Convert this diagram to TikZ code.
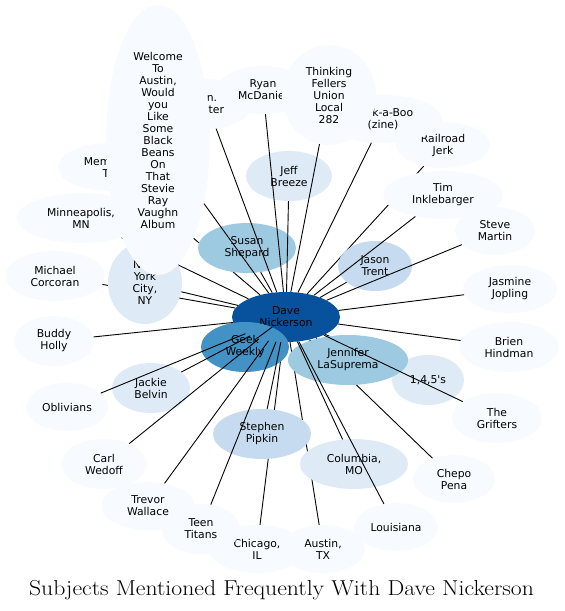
\documentclass[tikz,border=0pt]{standalone}
\usepackage{fontspec}
\usetikzlibrary{shapes.geometric,backgrounds}
\newfontfamily\subjfont{DejaVu Sans}

\definecolor{bluenine}{HTML}{08519C}
\definecolor{bluesev}{HTML}{4292C6}
\definecolor{bluefive}{HTML}{9ECAE1}
\definecolor{bluefour}{HTML}{C6DBEF}
\definecolor{bluethree}{HTML}{DEEBF7}
\definecolor{blueone}{HTML}{F7FBFF}

\tikzset{
  subj/.style={ellipse, inner sep=0pt, align=center, fill=blueone,
    font=\subjfont\fontsize{10.8}{12}\selectfont},
  sz/.style 2 args={minimum width=#1pt, minimum height=#2pt},
  link/.style={draw=black, line width=0.9pt},
}

\begin{document}
\begin{tikzpicture}[x=1pt,y=1pt,yscale=-1]
\useasboundingbox (0,0) rectangle (565,611);

%Shape: Ellipse (center and inner ring)
\node (dave) at (286,317) [subj, sz={108}{50}, fill=bluenine] {Dave\\Nickerson};
\node (geek) at (245,347) [subj, sz={88}{50}, fill=bluesev] {Geek\\Weekly};
\node (ones) at (428,380) [subj, sz={72}{50}, fill=bluethree] {1,4,5's};
\node (jennifer) at (348,360) [subj, sz={120}{50}, fill=bluefive] {Jennifer\\LaSuprema};
\node (susan) at (247,248) [subj, sz={98}{50}, fill=bluefive] {Susan\\Shepard};
\node (jason) at (375,266) [subj, sz={74}{50}, fill=bluefour] {Jason\\Trent};
\node (stephen) at (262,434) [subj, sz={98}{50}, fill=bluefour] {Stephen\\Pipkin};
\node (columbia) at (354,464) [subj, sz={108}{50}, fill=bluethree] {Columbia,\\MO};
\node (jackie) at (151,388) [subj, sz={78}{50}, fill=bluethree] {Jackie\\Belvin};
\node (jeff) at (289,176) [subj, sz={86}{50}, fill=bluethree] {Jeff\\Breeze};
\node (newyork) at (145,283) [subj, sz={74}{82}, fill=bluethree] {New\\York\\City,\\NY};

%Shape: Ellipse (outer ring, upper left)
\node (memphis) at (110,167) [subj, sz={104}{48}] {Memphis,\\TN};
\node (minneapolis) at (81,218) [subj, sz={128}{50}] {Minneapolis,\\MN};
\node (carter) at (207,104) [subj, sz={90}{50}] {Jon.\\Carter};
\node (ryan) at (263,90) [subj, sz={92}{48}] {Ryan\\McDaniel};
\node (welcome) at (158,140) [subj, sz={104}{270}] {Welcome\\To\\Austin,\\Would\\you\\Like\\Some\\Black\\Beans\\On\\That\\Stevie\\Ray\\Vaughn\\Album};
\node (michael) at (55,276) [subj, sz={100}{50}] {Michael\\Corcoran};
\node (buddy) at (54,341) [subj, sz={80}{50}] {Buddy\\Holly};

%Shape: Ellipse (outer ring, bottom)
\node (oblivians) at (67,407) [subj, sz={82}{48}] {Oblivians};
\node (carl) at (104,464) [subj, sz={86}{50}] {Carl\\Wedoff};
\node (trevor) at (148,506) [subj, sz={94}{48}] {Trevor\\Wallace};
\node (austin) at (323,549) [subj, sz={84}{48}] {Austin,\\TX};
\node (chicago) at (257,549) [subj, sz={96}{48}] {Chicago,\\IL};
\node (teen) at (201,529) [subj, sz={78}{50}] {Teen\\Titans};
\node (louisiana) at (396,527) [subj, sz={84}{48}] {Louisiana};
\node (chepo) at (454,479) [subj, sz={82}{48}] {Chepo\\Pena};

%Shape: Ellipse (outer ring, right)
\node (grifters) at (497,418) [subj, sz={90}{50}] {The\\Grifters};
\node (brien) at (509,347) [subj, sz={100}{50}] {Brien\\Hindman};
\node (jasmine) at (510,289) [subj, sz={94}{48}] {Jasmine\\Jopling};
\node (steve) at (495,231) [subj, sz={80}{48}] {Steve\\Martin};
\node (tim) at (443,195) [subj, sz={120}{48}] {Tim\\Inklebarger};
\node (railroad) at (443,145) [subj, sz={94}{46}] {Railroad\\Jerk};
\node (peek) at (383,119) [subj, sz={118}{48}] {Peek-a-Boo\\(zine)};
\node (thinking) at (329,95) [subj, sz={94}{100}] {Thinking\\Fellers\\Union\\Local\\282};

%Straight Lines (under the ellipses)
\begin{scope}[on background layer]
\foreach \s in {memphis,minneapolis,michael,railroad,chicago,austin,chepo,ones}
  \draw [link] (dave) -- (\s);
\end{scope}

%Straight Lines (over the ellipses)
\foreach \s in {welcome,carter,ryan,thinking,peek,jeff,susan,jason,tim,steve,
  jasmine,brien,grifters,jennifer,louisiana,columbia,stephen,teen,trevor,
  carl,oblivians,jackie,geek,buddy,newyork}
  \draw [link] (dave) -- (\s);

% Text Node
\node (title) at (281.5,595) [anchor=base, font=\fontsize{21.6}{26}\selectfont] {\scalebox{1.097}[1]{Subjects Mentioned Frequently With Dave Nickerson}};

\end{tikzpicture}
\end{document}
